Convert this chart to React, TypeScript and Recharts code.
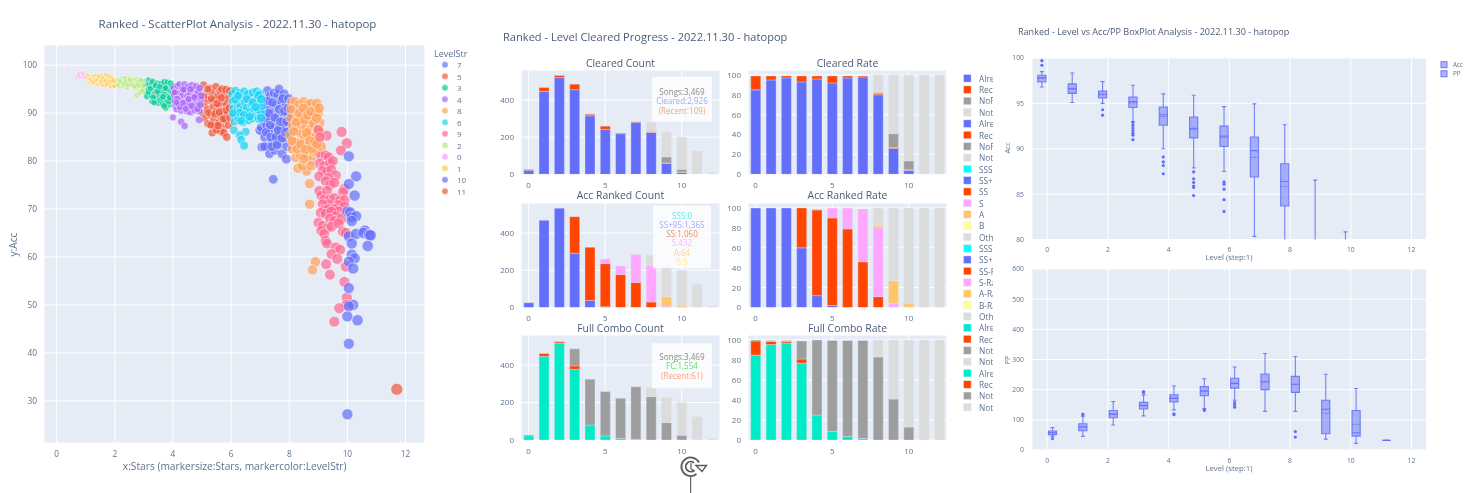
import React from 'react';
import {
  ScatterChart, Scatter, XAxis, YAxis, ZAxis, CartesianGrid, BarChart, Bar,
  ReferenceArea, ReferenceLine,
} from 'recharts';

const FONT = '"Open Sans", sans-serif';
const TITLE = '#4a5b78';
const TICK = '#5f7290';
const BG = '#E5ECF6';

type P = [number, number];
const lv0: P[] = [[0.35,99.7],[0.42,99.2],[0.66,97.5],[0.7,97.8],[0.75,98.3],[0.78,97.9],[0.8,97.4],[0.85,98.5],[0.88,97.9],[0.9,98.3],[0.92,97.4],[0.95,98.1],[0.98,97.6]];
const lv1: P[] = [[1.02,98.1],[1.05,97.4],[1.08,96.9],[1.1,96.3],[1.12,97.7],[1.15,96.5],[1.18,97.2],[1.22,96.1],[1.25,97.8],[1.28,96.8],[1.3,97.3],[1.33,97.9],[1.35,96.3],[1.38,97.6],[1.4,97.1],[1.42,95.9],[1.45,96.8],[1.48,97.3],[1.5,96.2],[1.55,97.8],[1.58,95.8],[1.6,96.9],[1.62,97.4],[1.65,96.3],[1.68,98],[1.7,95.7],[1.72,97],[1.75,96.6],[1.78,97.7],[1.8,96],[1.82,97.2],[1.85,95.6],[1.88,96.7],[1.9,97.5],[1.92,96.2],[1.95,97],[1.97,95.6],[1.99,96.5],[1.06,97.9],[1.14,97.1],[1.2,96.7],[1.27,96.4],[1.36,96.9],[1.44,97.7],[1.52,96.6],[1.57,97.3],[1.66,96.8],[1.74,96.1],[1.83,96.5],[1.93,96.8]];
const lv2: P[] = [[2.02,96.9],[2.05,95.8],[2.08,96.4],[2.12,97],[2.15,95.5],[2.2,96.2],[2.25,97.2],[2.28,95.7],[2.32,96.7],[2.35,97.3],[2.4,96],[2.42,95.4],[2.48,96.6],[2.5,97.2],[2.55,95.8],[2.58,96.4],[2.62,97.1],[2.65,95.6],[2.68,96.9],[2.72,96.1],[2.75,97],[2.78,95.3],[2.8,96.5],[2.85,96.9],[2.88,95.7],[2.92,96.3],[2.95,95.2],[2.97,96.8],[2.75,93.7],[2.85,94.2],[2.95,94.6],[2.1,95.9],[2.18,96.7],[2.3,96.1],[2.38,96.6],[2.45,95.9],[2.52,96.9],[2.6,95.9],[2.7,95.5],[2.82,95.8],[2.9,96.8],[2.98,95.8]];
const lv3: P[] = [[3.02,96.5],[3.05,95.2],[3.08,94],[3.1,93.4],[3.12,94.9],[3.15,96.9],[3.18,95.7],[3.2,94.5],[3.25,93.6],[3.25,96.3],[3.28,92.4],[3.3,96.6],[3.35,95.3],[3.38,94.2],[3.42,93.1],[3.45,96.2],[3.48,92.1],[3.5,95],[3.52,93.9],[3.55,92.7],[3.58,96.1],[3.6,94.6],[3.62,93],[3.65,91.9],[3.68,95.7],[3.7,96.5],[3.72,94],[3.75,91.1],[3.78,92.8],[3.8,95.1],[3.82,96.4],[3.85,93.5],[3.88,91.8],[3.9,94.7],[3.92,96.2],[3.95,92.6],[3.97,95.6],[3.06,96],[3.14,94.3],[3.22,95.1],[3.32,93.3],[3.4,95.8],[3.46,94.5],[3.54,95.5],[3.66,93.4],[3.74,95.2],[3.84,92.4],[3.9,93.2],[3.98,94.2],[3.35,92.2],[3.7,91.5]];
const lv4: P[] = [[4.02,95.2],[4.03,93.8],[4.05,92.5],[4.08,91.5],[4.1,94.6],[4.12,90.8],[4.15,95.7],[4.18,93.2],[4.2,91.9],[4.22,96],[4.25,94.2],[4.28,90.5],[4.3,92.9],[4.32,95.2],[4.35,93.9],[4.38,91.2],[4.4,96],[4.42,94.8],[4.45,92.3],[4.48,90.4],[4.5,93.5],[4.52,95.5],[4.55,91.7],[4.58,94.2],[4.6,90.2],[4.62,92.8],[4.65,95.8],[4.68,93.2],[4.7,91.1],[4.72,94.9],[4.75,90.6],[4.78,92.1],[4.8,95.6],[4.82,93.8],[4.85,91.5],[4.88,94.4],[4.9,90.5],[4.92,95.2],[4.95,92.8],[4.97,93.6],[4,89.1],[4.28,88.2],[4.4,87.3],[4.9,88.6],[4.06,94.3],[4.14,93],[4.24,91.2],[4.34,92.1],[4.44,90.9],[4.54,92.9],[4.64,91.5],[4.74,93.3],[4.84,90.9],[4.94,91.7],[4.12,92.2],[4.6,95],[4.36,94.9]];
const lv5: P[] = [[5.02,90],[5.05,95.9],[5.08,92],[5.1,88.9],[5.15,94.2],[5.18,90.8],[5.2,87.8],[5.25,92.7],[5.28,95.2],[5.3,89.6],[5.35,94.3],[5.38,91.3],[5.4,88.4],[5.42,87.2],[5.45,92.9],[5.48,95.5],[5.5,90.3],[5.55,93.5],[5.58,88],[5.6,91.5],[5.62,94.6],[5.65,89.3],[5.68,95],[5.7,92.3],[5.72,87],[5.75,90.5],[5.78,93.8],[5.8,88.6],[5.82,94.9],[5.85,91.8],[5.88,89.8],[5.9,93],[5.92,87.5],[5.95,94.6],[5.35,85.9],[5.65,86.2],[5.5,86.5],[5.75,85.9],[5.85,85],[5.12,93],[5.22,90.1],[5.32,93],[5.44,89.8],[5.52,92],[5.6,90.2],[5.66,93.2],[5.74,88.8],[5.84,90.6],[5.94,91],[5.3,87.5],[5.55,87.4],[5.96,89],[5.06,93.5],[5.2,95]];
const lv6: P[] = [[6.03,94],[6.05,92.5],[6.08,91],[6.1,89.5],[6.12,88.2],[6.15,94.7],[6.18,93.3],[6.2,90.7],[6.22,92],[6.25,88.9],[6.3,94.2],[6.32,91.4],[6.35,93],[6.38,89.8],[6.4,88.1],[6.42,90.8],[6.45,94.5],[6.48,92.3],[6.5,93.6],[6.52,89.1],[6.55,91.2],[6.58,94],[6.6,88.5],[6.62,92.7],[6.65,90.3],[6.68,93.3],[6.7,91.8],[6.72,88.9],[6.75,94.3],[6.78,90.9],[6.8,92.5],[6.85,89.5],[6.88,94.5],[6.9,93],[6.92,90.8],[6.95,88.8],[6.98,92],[7,94],[7.02,90.2],[7.05,91.5],[6.1,86.4],[6.5,86.1],[6.3,85.4],[6.35,84.4],[6.45,83.2],[6.14,92.8],[6.24,93.6],[6.28,90.1],[6.44,89.6],[6.54,92.9],[6.64,89.3],[6.74,92.2],[6.84,91.2],[6.94,93.7],[7.04,92.9],[6.06,90],[6.34,88.4],[7.03,89]];
const lv7: P[] = [[7.08,86],[6.98,86.4],[7.03,87],[7.12,88.2],[7.15,84.9],[7.18,90.5],[7.2,93],[7.22,87.4],[7.25,94.7],[7.25,83],[7.28,91.5],[7.3,85.8],[7.32,81.5],[7.35,93.6],[7.38,88.9],[7.4,86.6],[7.42,84],[7.45,90.3],[7.48,94.2],[7.5,82.2],[7.52,87.3],[7.55,91.8],[7.58,85.3],[7.6,93.8],[7.62,89.2],[7.65,95],[7.68,83.5],[7.7,86.7],[7.72,92.5],[7.75,81.5],[7.78,90.2],[7.8,88.3],[7.82,94],[7.85,84.8],[7.87,87.2],[7.9,91.7],[7.92,83],[7.95,89.5],[7.97,85.5],[7.9,80.4],[7.45,76.2],[7.05,82.9],[7.14,83],[7.2,86],[7.22,89],[7.26,92.5],[7.3,90],[7.34,87.5],[7.36,85],[7.4,83],[7.42,92.2],[7.5,89],[7.54,85],[7.58,83.4],[7.62,86.4],[7.66,90.8],[7.7,88.2],[7.75,84.8],[7.78,93],[7.84,90.4],[7.88,86],[7.92,88.2],[7.96,91],[7.98,93]];
const lv8: P[] = [[8.02,85.4],[8.05,89],[8.08,92.3],[8.1,82.5],[8.12,87.3],[8.15,91],[8.18,84],[8.2,92.4],[8.22,80.7],[8.25,90.2],[8.28,86.3],[8.3,83.8],[8.32,88.5],[8.35,91.8],[8.38,81.3],[8.4,85.8],[8.42,87.6],[8.45,89.6],[8.48,82.7],[8.5,92.4],[8.52,84.8],[8.55,90.4],[8.58,87.1],[8.6,81],[8.62,85.3],[8.65,91.8],[8.68,83.3],[8.7,88.7],[8.72,86.5],[8.75,92],[8.78,80.2],[8.8,84.6],[8.82,89.3],[8.85,82],[8.88,87.2],[8.9,91],[8.92,85.2],[8.95,92],[8.98,81.9],[9,90],[9.02,84],[9.05,88],[9.1,83],[8.3,78.5],[8.6,77.9],[8.7,75.3],[8.7,71],[8.9,59],[8.8,57.3],[8.45,79],[8.75,79],[8.06,90.8],[8.1,84.2],[8.16,86.2],[8.24,88.1],[8.26,82.5],[8.34,90],[8.4,83.5],[8.48,91],[8.52,88.6],[8.56,82.4],[8.6,85.9],[8.64,89.6],[8.7,84.2],[8.74,90.3],[8.78,82.6],[8.84,87.8],[8.88,84],[8.94,89],[8.98,86.6],[9.03,91],[8.5,80.5],[8.95,83.5],[9.06,86]];
const lv9: P[] = [[9,86.5],[9.29,85.3],[9.8,86.1],[9.98,83.7],[9.78,82.2],[9.06,85],[9.1,81],[9.25,81.2],[9.35,80.8],[9.05,79.5],[9.2,79],[9.4,79.5],[9.5,80],[9.15,78],[9.3,77.8],[9.45,78.2],[9.6,77],[9.03,76.8],[9.35,76.5],[9.25,75.8],[9.4,75],[9.55,75.5],[9.9,74.2],[9.85,73.5],[9.03,73.8],[9.1,72.8],[9.3,73.8],[9.2,72],[9.4,72],[9.55,72.3],[9.75,71.8],[9.9,71.8],[9.7,70.8],[9.9,70.5],[9.35,71],[9.15,71],[9.2,69.8],[9.35,70],[9.55,70],[9.7,69.5],[9.08,69.2],[9.25,69],[9.45,69.5],[9.6,68.5],[9.4,68],[9.55,67.5],[9.8,68],[9,67.2],[9.15,66.5],[9.3,66],[9.45,66.3],[9.7,67],[9.1,65.5],[9.85,65.3],[9.95,65],[9.2,64.8],[9.25,63.4],[9.3,62.8],[9.6,62],[9.75,61.5],[9.45,60.6],[9.65,59.6],[9.27,58.5],[9.95,58],[9.4,56.3],[9.9,54.8],[9.98,51.5],[9.97,50],[9.72,49.3],[9.55,46.5]];
const lv10: P[] = [[10.05,81],[10.3,76.8],[10.05,75.2],[10.25,72.8],[10,69.5],[10.1,69.3],[10.15,68.3],[10.3,68.5],[10.15,67.5],[10.05,64.3],[10.3,64.8],[10.6,65.5],[10.55,65],[10.75,64.6],[10.8,64.5],[10.7,62.3],[10.15,62.8],[10.15,60.5],[10.25,59.7],[10.05,59],[10.2,57.6],[10.05,53.5],[10.2,50],[10.05,49.7],[10,47.6],[10.35,46.8],[10.05,41.9],[10,27.2]];
const lv11: P[] = [[11.7,32.4]];

const scatterSeries: { name: string; color: string; pts: P[] }[] = [
  { name: '7', color: '#636EFA', pts: lv7 },
  { name: '5', color: '#EF553B', pts: lv5 },
  { name: '3', color: '#00CC96', pts: lv3 },
  { name: '4', color: '#AB63FA', pts: lv4 },
  { name: '8', color: '#FFA15A', pts: lv8 },
  { name: '6', color: '#19D3F3', pts: lv6 },
  { name: '9', color: '#FF6692', pts: lv9 },
  { name: '2', color: '#B6E880', pts: lv2 },
  { name: '0', color: '#FF97FF', pts: lv0 },
  { name: '1', color: '#FECB52', pts: lv1 },
  { name: '10', color: '#636EFA', pts: lv10 },
  { name: '11', color: '#EF553B', pts: lv11 },
];

const levels = [0, 1, 2, 3, 4, 5, 6, 7, 8, 9, 10, 11, 12];
const BLUE = '#636EFA', RED = '#FF4500', GREY = '#9E9E9E', LIGHT = '#DCDCDC', TEAL = '#00EBC8';
const CYAN = '#00FFFF', PINK = '#FFA6FF', AMBER = '#FFC566', PALE = '#FFFF99';

const clearedAlready = [22,445,520,455,315,242,218,280,225,60,10,0,0];
const clearedRecent = [4,22,12,30,8,17,4,3,3,1,1,0,0];
const clearedNoFc = [0,0,0,0,0,0,0,0,3,33,16,0,0];
const clearedNot = [0,0,0,0,0,0,0,0,50,134,173,125,8];
const clearedRateAlready = [85,95,97,93,96,92,97,98,80,26,4,0,0];
const clearedRateRecent = [14,4,2,6,3,7,2,1,1.5,1,0.5,0,0];
const clearedRateNoFc = [0,0,0,0,0,0,0,0,1,14,9,0,0];
const clearedRateNot = [0,0,0,0,0,0,0,0,17.5,59,86.5,100,100];

const accSs95 = [26,468,533,292,38,4,0,0,0,0,0,0,0];
const accSs = [0,0,0,195,285,232,177,135,30,0,0,0,0];
const accS = [0,0,0,0,0,24,46,150,195,8,1,0,0];
const accA = [0,0,0,0,0,0,0,0,4,50,8,0,0];
const accOther = [0,0,0,0,0,0,0,0,52,170,191,125,8];
const accRateSs95 = [100,100,100,60,12,2,0,0,0,0,0,0,0];
const accRateSs = [0,0,0,40,86,88,79,46,11,0,0,0,0];
const accRateS = [0,0,0,0,1,10,21,53,69,4,0.5,0,0];
const accRateA = [0,0,0,0,0,0,0,0,2,23,4,0,0];
const accRateOther = [0,0,0,0,0,0,0,0,18,73,95.5,100,100];

const fcAlready = [22,447,517,378,80,22,8,4,0,0,0,0,0];
const fcRecent = [4,15,8,18,0,0,0,0,0,0,0,0,0];
const fcNoFc = [0,3,3,91,245,237,215,281,232,93,26,1,0];
const fcNot = [0,0,0,0,0,0,0,0,50,135,174,124,8];
const fcRateAlready = [85,95.5,97,77,25,8.5,3.5,1.5,0,0,0,0,0];
const fcRateRecent = [14,3,1.5,4,0,0,0,0,0,0,0,0,0];
const fcRateNoFc = [1,1,1,18,75,91,96,98,83,41,13,0.5,0];
const fcRateNot = [0,0,0,0,0,0,0,0,17,59,87,99.5,100];

type S = [string, number[], string];
const panels: { title: string; series: S[]; rate: boolean; rect: [number, number, number, number] }[] = [
  { title: 'Cleared Count', rate: false, rect: [521,70,720,174.3], series: [['a',clearedAlready,BLUE],['b',clearedRecent,RED],['c',clearedNoFc,GREY],['d',clearedNot,LIGHT]] },
  { title: 'Cleared Rate', rate: true, rect: [748,70,947,174.3], series: [['a',clearedRateAlready,BLUE],['b',clearedRateRecent,RED],['c',clearedRateNoFc,GREY],['d',clearedRateNot,LIGHT]] },
  { title: 'Acc Ranked Count', rate: false, rect: [521,202.7,720,307.3], series: [['a',accSs95,BLUE],['b',accSs,RED],['c',accS,PINK],['d',accA,AMBER],['e',accOther,LIGHT]] },
  { title: 'Acc Ranked Rate', rate: true, rect: [748,202.7,947,307.3], series: [['a',accRateSs95,BLUE],['b',accRateSs,RED],['c',accRateS,PINK],['d',accRateA,AMBER],['e',accRateOther,LIGHT]] },
  { title: 'Full Combo Count', rate: false, rect: [521,335,720,440], series: [['a',fcAlready,TEAL],['b',fcRecent,RED],['c',fcNoFc,GREY],['d',fcNot,LIGHT]] },
  { title: 'Full Combo Rate', rate: true, rect: [748,335,947,440], series: [['a',fcRateAlready,TEAL],['b',fcRateRecent,RED],['c',fcRateNoFc,GREY],['d',fcRateNot,LIGHT]] },
];

const midLegend: [string, string][] = [
  ['Alrea',BLUE],['Rece',RED],['NoFa',GREY],['NotC',LIGHT],['Alrea',BLUE],['Rece',RED],['NoFa',GREY],['NotC',LIGHT],
  ['SSS',CYAN],['SS+',BLUE],['SS',RED],['S',PINK],['A',AMBER],['B',PALE],['Othe',LIGHT],
  ['SSS-',CYAN],['SS+',BLUE],['SS-R',RED],['S-Ra',PINK],['A-Ra',AMBER],['B-Ra',PALE],['Othe',LIGHT],
  ['Alrea',TEAL],['Rece',RED],['NotF',GREY],['NotC',LIGHT],['Alrea',TEAL],['Rece',RED],['NotF',GREY],['NotC',LIGHT],
];

const notes: { box: [number, number, number, number]; lines: [string, string][]; y0: number; dy: number }[] = [
  { box: [652,76.7,712,121.7], y0: 91.7, dy: 9.2, lines: [['Songs:3,469','#8a8a8a'],['Cleared:2,926','#A3A9FA'],['(Recent:109)','#F7A184']] },
  { box: [653,205.7,711,268.3], y0: 215, dy: 9.3, lines: [['SSS:0','#66E8E8'],['SS+95:1,365','#A3A9FA'],['SS:1,060','#F98A66'],['S:432','#FFB3FF'],['A:64','#FFD08A'],['B:5','#FFEFA0']] },
  { box: [652,343.3,712,388.3], y0: 356.7, dy: 9.2, lines: [['Songs:3,469','#8a8a8a'],['FC:1,554','#66D966'],['(Recent:61)','#F7A184']] },
];

type B = { l: number; lo: number; q1: number; med: number; mean: number; q3: number; hi: number; out: number[] };
const accBoxes: B[] = [
  { l: 0, lo: 96.8, q1: 97.36, med: 97.85, mean: 97.75, q3: 98.1, hi: 98.5, out: [99.2, 99.7] },
  { l: 1, lo: 95.1, q1: 96.1, med: 96.6, mean: 96.6, q3: 97.15, hi: 98.35, out: [] },
  { l: 2, lo: 95.0, q1: 95.6, med: 96.0, mean: 95.95, q3: 96.35, hi: 97.4, out: [94.3, 93.7] },
  { l: 3, lo: 93.0, q1: 94.55, med: 95.2, mean: 95.05, q3: 95.7, hi: 97.0, out: [91,91.5,91.7,92,92.3,92.6,92.9] },
  { l: 4, lo: 90, q1: 92.6, med: 93.75, mean: 93.55, q3: 94.6, hi: 96.05, out: [89.1,88.55,88.15,87.25] },
  { l: 5, lo: 87.9, q1: 91.2, med: 92.25, mean: 92.1, q3: 93.5, hi: 95.9, out: [87.45,86.7,86.3,85.9,85.75,84.85] },
  { l: 6, lo: 87.5, q1: 90.25, med: 91.4, mean: 91.25, q3: 92.5, hi: 94.65, out: [86.35,86.1,85.55,84.4,83.1] },
  { l: 7, lo: 80.35, q1: 86.9, med: 89.8, mean: 89.05, q3: 91.3, hi: 94.95, out: [] },
  { l: 8, lo: 72, q1: 83.7, med: 86.4, mean: 85.85, q3: 88.35, hi: 92.65, out: [] },
  { l: 9, lo: 62, q1: 70, med: 74, mean: 73, q3: 78, hi: 86.55, out: [] },
  { l: 10, lo: 50, q1: 60, med: 66, mean: 65, q3: 70, hi: 80.85, out: [] },
];
const ppBoxes: B[] = [
  { l: 0, lo: 45, q1: 51, med: 57, mean: 57, q3: 63, hi: 74, out: [38] },
  { l: 1, lo: 45, q1: 64, med: 76, mean: 77, q3: 87, hi: 112, out: [119, 116] },
  { l: 2, lo: 83, q1: 107, med: 119, mean: 119, q3: 131, hi: 161, out: [] },
  { l: 3, lo: 113, q1: 136, med: 147, mean: 148, q3: 158, hi: 182, out: [194, 190] },
  { l: 4, lo: 133, q1: 159, med: 171, mean: 171, q3: 183, hi: 212, out: [120, 117] },
  { l: 5, lo: 137, q1: 180, med: 196, mean: 195, q3: 210, hi: 236, out: [134, 131] },
  { l: 6, lo: 165, q1: 205, med: 221, mean: 220, q3: 238, hi: 275, out: [157, 150, 142] },
  { l: 7, lo: 128, q1: 200, med: 226, mean: 226, q3: 252, hi: 320, out: [] },
  { l: 8, lo: 128, q1: 191, med: 218, mean: 217, q3: 244, hi: 310, out: [61, 43] },
  { l: 9, lo: 36, q1: 54, med: 135, mean: 122, q3: 165, hi: 251, out: [] },
  { l: 10, lo: 22, q1: 46, med: 57, mean: 85, q3: 131, hi: 204, out: [] },
  { l: 11, lo: 32, q1: 32, med: 32, mean: 32, q3: 32, hi: 32, out: [] },
];

const frame = (l: number, t: number, r: number, b: number) => ({
  style: { position: 'absolute' as const, left: l - 30, top: t - 10 },
  width: r - l + 40,
  height: b - t + 35,
  margin: { top: 10, right: 10, bottom: 0, left: 0 },
});
const tickStyle = (size: number) => ({ fontFamily: FONT, fontSize: size, fill: TICK });

function ScatterPanel() {
  const f = frame(44, 45, 425, 443);
  return (
    <div style={f.style}>
      <ScatterChart width={f.width} height={f.height} margin={f.margin}>
        <CartesianGrid fill={BG} stroke="#fff" strokeWidth={1} />
        <XAxis type="number" dataKey="x" domain={[-0.437, 12.67]} ticks={[0,2,4,6,8,10,12]} allowDataOverflow height={25} tickLine={false} axisLine={false} tickMargin={2} tick={tickStyle(8.3)} />
        <YAxis type="number" dataKey="y" domain={[21.2, 104.2]} ticks={[30,40,50,60,70,80,90,100]} allowDataOverflow width={30} tickLine={false} axisLine={false} tickMargin={1} tick={tickStyle(8.3)} />
        <ZAxis type="number" dataKey="x" domain={[0, 12]} range={[0, 115]} />
        {scatterSeries.map((s) => (
          <Scatter key={s.name} name={s.name} isAnimationActive={false} fill={s.color} fillOpacity={0.7} stroke="#fff" strokeOpacity={0.85} strokeWidth={0.6}
            data={s.pts.map(([x, y]) => ({ x, y }))} />
        ))}
      </ScatterChart>
    </div>
  );
}

function BarPanel({ p }: { p: (typeof panels)[number] }) {
  const [l, t, r, b] = p.rect;
  const f = frame(l, t, r, b);
  const data = levels.map((lv, i) => {
    const row: Record<string, number> = { level: lv };
    p.series.forEach(([k, vals]) => { row[k] = vals[i]; });
    return row;
  });
  return (
    <div style={f.style}>
      <BarChart width={f.width} height={f.height} margin={f.margin} data={data} barCategoryGap="18%">
        <CartesianGrid fill={BG} stroke="#fff" strokeWidth={1} />
        <XAxis dataKey="level" type="category" ticks={[0,5,10]} interval={0} height={25} tickLine={false} axisLine={false} tickMargin={2} tick={tickStyle(8)} />
        <YAxis type="number" domain={p.rate ? [0,105] : [0,561]} ticks={p.rate ? [0,20,40,60,80,100] : [0,200,400]} allowDataOverflow width={30} tickLine={false} axisLine={false} tickMargin={1} tick={tickStyle(8)} />
        {p.series.map(([k, , c]) => (
          <Bar key={k} dataKey={k} stackId="s" fill={c} stroke={BG} strokeOpacity={0.7} strokeWidth={0.5} isAnimationActive={false} />
        ))}
      </BarChart>
    </div>
  );
}

function Dot(props: { cx?: number; cy?: number }) {
  return <circle cx={props.cx} cy={props.cy} r={1.6} fill="#636EFA" />;
}

function BoxPanel({ boxes, offset, yDomain, yTicks, rect }: { boxes: B[]; offset: number; yDomain: [number, number]; yTicks: number[]; rect: [number, number, number, number] }) {
  const [l, t, r, b] = rect;
  const f = frame(l, t, r, b);
  const hw = 0.135, cap = 0.065;
  const col = '#636EFA';
  const seg = (k: string, x1: number, y1: number, x2: number, y2: number, dash?: string) => (
    <ReferenceLine key={k} ifOverflow="hidden" segment={[{ x: x1, y: y1 }, { x: x2, y: y2 }]} stroke={col} strokeOpacity={0.85} strokeWidth={1.1} strokeDasharray={dash} />
  );
  const outliers = boxes.flatMap((d) => d.out.map((v) => ({ x: d.l + offset, y: v })));
  return (
    <div style={f.style}>
      <ScatterChart width={f.width} height={f.height} margin={f.margin}>
        <CartesianGrid fill={BG} stroke="#fff" strokeWidth={1} />
        <XAxis type="number" dataKey="x" domain={[-0.5, 12.5]} ticks={[0,2,4,6,8,10,12]} allowDataOverflow height={25} tickLine={false} axisLine={false} tickMargin={2} tick={tickStyle(6.8)} />
        <YAxis type="number" dataKey="y" domain={yDomain} ticks={yTicks} allowDataOverflow width={30} tickLine={false} axisLine={false} tickMargin={2} tick={tickStyle(6.8)} />
        {boxes.map((d) => {
          const x = d.l + offset;
          return (
            <React.Fragment key={d.l}>
              {seg(`a${d.l}`, x, d.q3, x, d.hi)}
              {seg(`b${d.l}`, x, d.lo, x, d.q1)}
              {seg(`c${d.l}`, x - cap, d.hi, x + cap, d.hi)}
              {seg(`d${d.l}`, x - cap, d.lo, x + cap, d.lo)}
              <ReferenceArea ifOverflow="hidden" x1={x - hw} x2={x + hw} y1={d.q1} y2={d.q3} fill={col} fillOpacity={0.5} stroke={col} strokeOpacity={0.85} strokeWidth={1.1} />
              {seg(`e${d.l}`, x - hw, d.med, x + hw, d.med)}
              {seg(`f${d.l}`, x - hw, d.mean, x + hw, d.mean, '2 1.5')}
            </React.Fragment>
          );
        })}
        <Scatter data={outliers} fill={col} isAnimationActive={false} shape={Dot as any} />
      </ScatterChart>
    </div>
  );
}

function Overlay() {
  const t = (x: number, y: number, s: string, size: number, extra: Record<string, unknown> = {}) => (
    <text x={x} y={y} fontFamily={FONT} fontSize={size} fill={TITLE} dominantBaseline="central" {...extra}>{s}</text>
  );
  return (
    <svg width={1476} height={493} style={{ position: 'absolute', left: 0, top: 0, pointerEvents: 'none' }}>
      <defs>
        <clipPath id="midLeg"><rect x={975} y={60} width={18} height={360} /></clipPath>
      </defs>
      {t(237.5, 23, 'Ranked - ScatterPlot Analysis - 2022.11.30 - hatopop', 11.5, { textAnchor: 'middle' })}
      {t(503, 36, 'Ranked - Level Cleared Progress - 2022.11.30 - hatopop', 11.1, {})}
      {t(1018, 31, 'Ranked - Level vs Acc/PP BoxPlot Analysis - 2022.11.30 - hatopop', 9.05, {})}
      {t(234.7, 465.5, 'x:Stars (markersize:Stars, markercolor:LevelStr)', 10.2, { textAnchor: 'middle', fill: TICK })}
      <g transform="translate(12.5,244.5) rotate(-90)">{t(0, 0, 'y:Acc', 10.2, { textAnchor: 'middle', fill: TICK })}</g>
      {t(434, 53, 'LevelStr', 9, { fill: TICK })}
      {scatterSeries.map((s, i) => (
        <g key={s.name + 'l'}>
          <circle cx={445} cy={64.8 + i * 11.5} r={3.2} fill={s.color} fillOpacity={0.7} stroke="#fff" strokeWidth={0.5} />
          {t(457, 64.8 + i * 11.5, s.name, 8, { fill: TICK })}
        </g>
      ))}
      {panels.map((p) => t((p.rect[0] + p.rect[2]) / 2, p.rect[1] - 7.5, p.title, 10.4, { textAnchor: 'middle', key: p.title }))}
      {notes.map((n, i) => (
        <g key={i}>
          <rect x={n.box[0]} y={n.box[1]} width={n.box[2] - n.box[0]} height={n.box[3] - n.box[1]} fill="#fff" fillOpacity={0.8} />
          {n.lines.map(([s, c], j) => (
            <text key={j} x={(n.box[0] + n.box[2]) / 2} y={n.y0 + j * n.dy} fontFamily={FONT} fontSize={8.1} fill={c} textAnchor="middle" dominantBaseline="central">{s}</text>
          ))}
        </g>
      ))}
      {midLegend.map(([s, c], i) => (
        <g key={i}>
          <rect x={963.5} y={78.3 + i * 11.34 - 3.8} width={7.6} height={7.6} fill={c} stroke={BG} strokeWidth={0.5} />
          <g clipPath="url(#midLeg)">{t(979, 78.3 + i * 11.34, s, 8.3, { fill: TICK })}</g>
        </g>
      ))}
      {t(1229, 256.7, 'Level (step:1)', 7.75, { textAnchor: 'middle', fill: TICK })}
      {t(1229, 468, 'Level (step:1)', 7.75, { textAnchor: 'middle', fill: TICK })}
      <g transform="translate(1007,148) rotate(-90)">{t(0, 0, 'Acc', 7, { textAnchor: 'middle', fill: TICK })}</g>
      <g transform="translate(1007,360) rotate(-90)">{t(0, 0, 'PP', 7, { textAnchor: 'middle', fill: TICK })}</g>
      {[['Acc', 64.7], ['PP', 73.8]].map(([s, y]) => (
        <g key={s as string}>
          <rect x={1441} y={(y as number) - 3} width={6} height={6} fill="#636EFA" fillOpacity={0.5} stroke="#636EFA" strokeWidth={0.9} />
          {t(1453, y as number, s as string, 6.3, { fill: TICK })}
        </g>
      ))}
      <g fill="none" stroke="#5b5b5b" strokeWidth={1.8}>
        <path d="M 696.5 474 A 9.3 9.3 0 1 1 699 462.5" />
        <path d="M 694 470.5 A 5 5 0 1 1 694 462.8" />
        <path d="M 690.7 476.7 L 690.7 493" strokeWidth={1} stroke="#444" />
        <path d="M 691 463 L 691 469 L 695 471" strokeWidth={1.2} />
        <path d="M 696 465.5 L 702 471.5 L 706.5 465.5 Z" strokeWidth={1.4} />
      </g>
    </svg>
  );
}

export default function App() {
  return (
    <div style={{ position: 'absolute', left: 0, top: 0, width: 1476, height: 493, overflow: 'hidden', background: '#fff', filter: 'blur(0.35px)' }}>
      <ScatterPanel />
      {panels.map((p) => <BarPanel key={p.title} p={p} />)}
      <BoxPanel boxes={accBoxes} offset={-0.175} yDomain={[80, 100]} yTicks={[80,85,90,95,100]} rect={[1032,57.7,1426.7,239.3]} />
      <BoxPanel boxes={ppBoxes} offset={0.175} yDomain={[0, 600]} yTicks={[0,100,200,300,400,500,600]} rect={[1032,269,1426.7,450]} />
      <Overlay />
    </div>
  );
}
